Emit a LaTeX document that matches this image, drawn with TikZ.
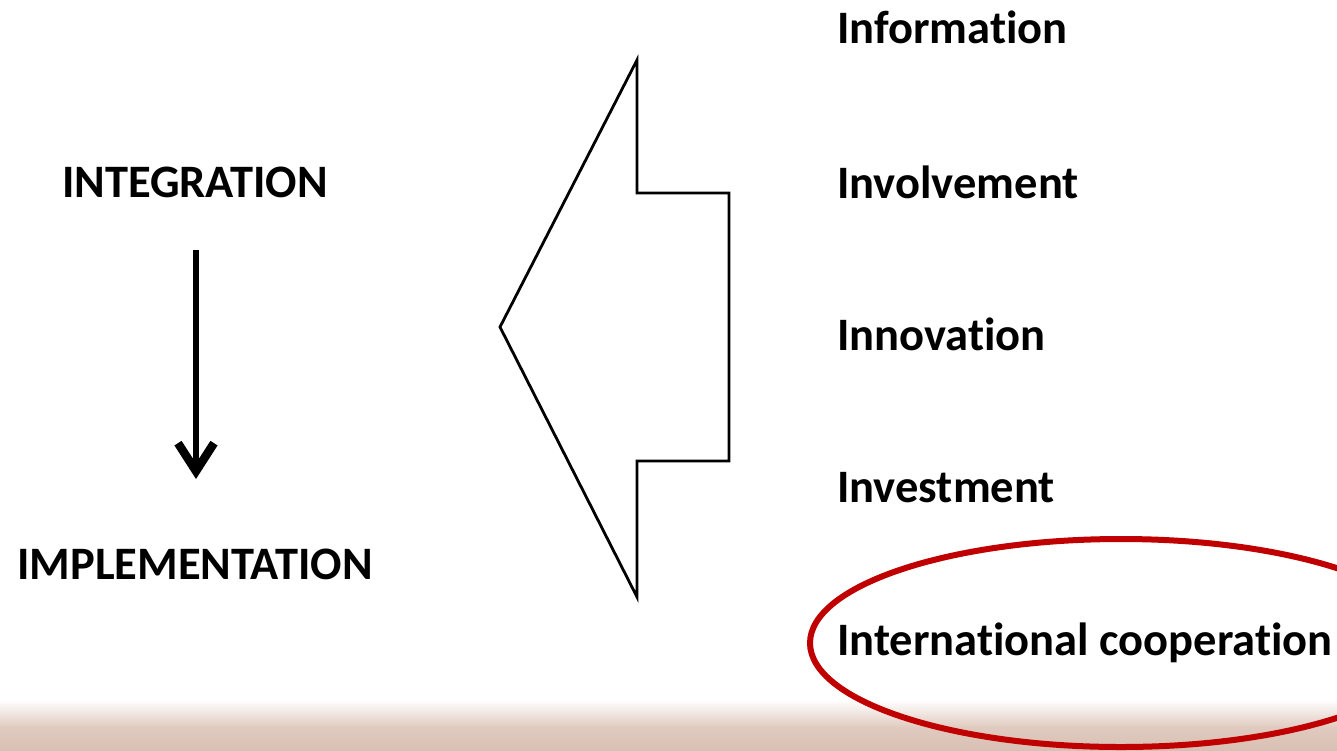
\documentclass[tikz,border=0pt]{standalone}
\usepackage{fontspec}
\setmainfont{Carlito}[Ligatures={NoCommon,NoContextual}]
\usetikzlibrary{arrows.meta}
\definecolor{ringred}{RGB}{192,0,0}
\definecolor{sand}{RGB}{224,201,190}
\definecolor{sanddark}{RGB}{216,192,180}
\tikzset{
  lbl/.style={inner sep=0pt, font=\fontsize{46.5}{56}\selectfont\bfseries},
  bigarrow/.style={draw=black, line width=2.8pt, line join=miter},
  downarrow/.style={line width=6.5pt, -{Straight Barb[length=28pt,width=36pt,line width=8.5pt]}},
}
\begin{document}
\begin{tikzpicture}[x=1pt,y=-1pt]
\useasboundingbox (0,0) rectangle (1337,750);
\clip (0,0) rectangle (1337,750);
% bottom band
\shade[top color=white, bottom color=sand] (0,700) rectangle (1337,728);
\shade[top color=sand, bottom color=sanddark] (0,728) rectangle (1337,750);
% left labels
\node[lbl, anchor=base] (integ) at (195,197) {INTEGRATION};
\node[lbl, anchor=base] (impl) at (195,579) {IMPLEMENTATION};
\coordinate (arrtop) at (196,250);
\coordinate (arrbot) at (196,479);
\draw[downarrow] (arrtop) -- (arrbot);
% big left-pointing arrow
\draw[bigarrow] (500,327) -- (637,60) -- (637,193) -- (729,193) -- (729,461) -- (637,461) -- (637,597) -- cycle;
% right labels
\node[lbl, anchor=base west] (info) at (837,43) {Information};
\node[lbl, anchor=base west] (invol) at (837,198) {Involvement};
\node[lbl, anchor=base west] (innov) at (837,350) {Innovation};
\node[lbl, anchor=base west] (invest) at (837,502) {Investment};
\node[lbl, anchor=base west] (intl) at (837,655) {International cooperation};
% red ring
\draw[ringred, line width=6pt] (1121,643) ellipse [x radius=311, y radius=104];
\end{tikzpicture}
\end{document}
